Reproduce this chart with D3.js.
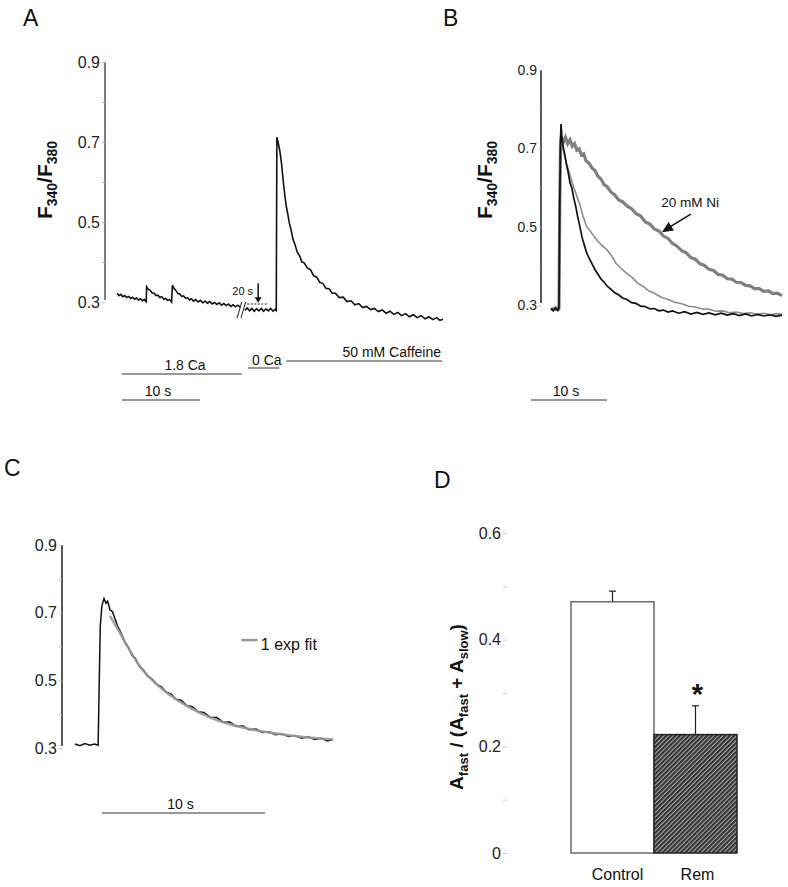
<!DOCTYPE html>
<html>
<head>
<meta charset="utf-8">
<script src="https://cdn.jsdelivr.net/npm/d3@7"></script>
<style>
body { margin: 0; background: #fff; }
svg text { font-family: "Liberation Sans", Arial, sans-serif; }
</style>
</head>
<body>
<div id="chart"></div>
<script>
//--------------------------------------------------
// data (time in s, value = F340/F380)
//--------------------------------------------------

const ratioTicks = [0.3, 0.4, 0.5, 0.6, 0.7, 0.8, 0.9];
const ratioLabels = [0.3, 0.5, 0.7, 0.9];

// panel A, before the break
const traceA1 = [[0,0.322],[0.25,0.316],[0.5,0.319],[0.75,0.313],[1.0,0.316],[1.25,0.311],[1.5,0.314],[1.75,0.309],[2.0,0.312],[2.25,0.307],[2.5,0.310],[2.75,0.305],[3.0,0.308],[3.25,0.303],[3.5,0.306],[3.75,0.301],[3.8,0.338],[4.0,0.332],[4.25,0.329],[4.5,0.323],[4.75,0.322],[5.0,0.316],[5.25,0.317],[5.5,0.311],[5.75,0.313],[6.0,0.307],[6.25,0.309],[6.5,0.304],[6.75,0.306],[7.0,0.300],[7.1,0.342],[7.3,0.334],[7.55,0.329],[7.8,0.321],[8.05,0.320],[8.3,0.314],[8.55,0.315],[8.8,0.309],[9.05,0.311],[9.3,0.305],[9.55,0.308],[9.8,0.302],[10.1,0.306],[10.4,0.300],[10.7,0.304],[11.0,0.298],[11.3,0.302],[11.6,0.297],[11.9,0.301],[12.2,0.295],[12.5,0.299],[12.8,0.294],[13.1,0.298],[13.4,0.292],[13.7,0.296],[14.0,0.291],[14.3,0.295],[14.6,0.289],[14.9,0.293],[15.2,0.288],[15.5,0.292],[15.8,0.287]];

// panel A, after the break (0 Ca, then caffeine)
const traceA2 = [[16.4,0.279],[16.7,0.285],[17.0,0.278],[17.3,0.284],[17.6,0.277],[17.9,0.283],[18.2,0.278],[18.5,0.284],[18.8,0.277],[19.1,0.283],[19.4,0.278],[19.7,0.284],[20.0,0.277],[20.3,0.282],[20.42,0.279],[20.5,0.712],[20.65,0.700],[20.9,0.675],[21.1,0.645],[21.3,0.605],[21.5,0.570],[21.7,0.540],[21.9,0.520],[22.1,0.497],[22.3,0.482],[22.55,0.458],[22.8,0.445],[23.1,0.425],[23.4,0.416],[23.7,0.400],[24.0,0.398],[24.4,0.385],[24.8,0.381],[25.2,0.366],[25.6,0.362],[26.0,0.349],[26.4,0.346],[26.8,0.334],[27.2,0.333],[27.6,0.322],[28.0,0.322],[28.5,0.311],[29.0,0.312],[29.5,0.301],[30.0,0.303],[30.5,0.293],[31.0,0.296],[31.5,0.286],[32.0,0.289],[32.5,0.281],[33.0,0.284],[33.5,0.276],[34.0,0.280],[34.5,0.272],[35.0,0.277],[35.5,0.269],[36.0,0.274],[36.5,0.266],[37.0,0.271],[37.5,0.263],[38.0,0.268],[38.5,0.261],[39.0,0.266],[39.5,0.258],[40.0,0.263],[40.5,0.256],[41.0,0.261],[41.4,0.254],[41.8,0.257]];

// solution protocol under panel A [label, start s, end s]
const protocolA = [["1.8 Ca", 0.64, 16.0], ["0 Ca", 16.8, 20.8], ["50 mM Caffeine", 21.7, 41.7]];

// panel B traces
const traceBBlack = [[0,0.291],[0.3,0.286],[0.6,0.292],[0.9,0.287],[1.05,0.293],[1.15,0.55],[1.25,0.72],[1.32,0.762],[1.45,0.725],[1.6,0.705],[1.8,0.685],[2.0,0.662],[2.25,0.640],[2.5,0.612],[2.75,0.598],[3.0,0.573],[3.25,0.552],[3.5,0.527],[3.8,0.500],[4.1,0.472],[4.4,0.452],[4.7,0.433],[5.0,0.420],[5.4,0.405],[5.8,0.390],[6.2,0.378],[6.6,0.366],[7.0,0.358],[7.4,0.348],[7.9,0.340],[8.4,0.331],[8.9,0.326],[9.4,0.318],[10.0,0.314],[10.6,0.306],[11.2,0.304],[11.8,0.297],[12.4,0.296],[13.0,0.290],[13.6,0.291],[14.2,0.285],[14.8,0.287],[15.4,0.282],[16.0,0.285],[16.8,0.279],[17.6,0.283],[18.4,0.277],[19.2,0.281],[20.0,0.276],[20.8,0.280],[21.6,0.275],[22.4,0.279],[23.2,0.274],[24.0,0.278],[24.8,0.273],[25.6,0.277],[26.4,0.272],[27.2,0.276],[28.0,0.272],[28.8,0.275],[29.6,0.271],[30.4,0.274]];
const traceBGray = [[0,0.288],[0.3,0.293],[0.6,0.287],[0.9,0.292],[1.05,0.289],[1.15,0.50],[1.25,0.685],[1.35,0.715],[1.5,0.700],[1.7,0.690],[2.0,0.665],[2.3,0.645],[2.6,0.625],[3.0,0.600],[3.4,0.578],[3.8,0.556],[4.2,0.528],[4.7,0.500],[5.2,0.488],[5.7,0.474],[6.2,0.462],[6.7,0.452],[7.4,0.440],[8.0,0.425],[8.6,0.405],[9.3,0.392],[10.0,0.380],[10.7,0.370],[11.4,0.356],[12.1,0.348],[12.8,0.337],[13.6,0.330],[14.5,0.320],[15.4,0.314],[16.3,0.307],[17.2,0.303],[18.1,0.297],[19.0,0.295],[19.9,0.290],[20.8,0.289],[21.7,0.284],[22.6,0.285],[23.5,0.280],[24.4,0.282],[25.3,0.278],[26.2,0.280],[27.1,0.276],[28.0,0.279],[28.9,0.275],[29.7,0.278],[30.4,0.276]];
const traceBNi = [[0,0.292],[0.3,0.287],[0.6,0.293],[0.9,0.288],[1.05,0.291],[1.15,0.55],[1.25,0.700],[1.35,0.728],[1.6,0.715],[1.9,0.728],[2.2,0.712],[2.5,0.722],[2.8,0.705],[3.1,0.712],[3.4,0.695],[3.7,0.699],[4.0,0.683],[4.3,0.686],[4.6,0.668],[5.0,0.662],[5.4,0.650],[5.8,0.643],[6.2,0.628],[6.6,0.621],[7.0,0.607],[7.4,0.602],[7.9,0.588],[8.4,0.581],[8.9,0.568],[9.4,0.564],[10.0,0.553],[10.6,0.546],[11.2,0.533],[11.8,0.527],[12.4,0.512],[13.0,0.507],[13.6,0.494],[14.2,0.489],[14.8,0.476],[15.4,0.470],[16.0,0.457],[16.6,0.450],[17.2,0.439],[17.8,0.433],[18.4,0.421],[19.0,0.417],[19.6,0.405],[20.2,0.401],[20.8,0.391],[21.4,0.388],[22.0,0.378],[22.6,0.376],[23.2,0.367],[23.8,0.366],[24.4,0.358],[25.0,0.357],[25.6,0.350],[26.2,0.349],[26.8,0.342],[27.4,0.342],[28.0,0.335],[28.6,0.336],[29.2,0.329],[29.8,0.330],[30.4,0.324]];

// panel C: trace and single exponential fit
const traceC = [[0,0.312],[0.3,0.307],[0.6,0.313],[0.9,0.308],[1.2,0.312],[1.42,0.308],[1.47,0.45],[1.55,0.66],[1.65,0.72],[1.78,0.742],[1.9,0.728],[2.0,0.734],[2.15,0.708],[2.3,0.703],[2.45,0.682],[2.6,0.662],[2.75,0.648],[2.9,0.632],[3.1,0.608],[3.3,0.596],[3.5,0.573],[3.7,0.565],[3.95,0.541],[4.2,0.531],[4.45,0.512],[4.7,0.505],[5.0,0.489],[5.3,0.481],[5.6,0.465],[5.9,0.459],[6.2,0.444],[6.5,0.441],[6.85,0.426],[7.2,0.422],[7.55,0.407],[7.9,0.405],[8.3,0.391],[8.7,0.390],[9.1,0.376],[9.5,0.377],[9.9,0.364],[10.3,0.365],[10.7,0.354],[11.1,0.356],[11.5,0.346],[11.9,0.348],[12.3,0.339],[12.7,0.342],[13.1,0.334],[13.5,0.337],[13.9,0.329],[14.3,0.333],[14.7,0.325],[15.1,0.329],[15.5,0.321],[15.83,0.325]];
const fitC = [[2.15,0.690],[2.7,0.645],[3.4,0.585],[4.0,0.540],[4.6,0.507],[5.2,0.480],[6.1,0.447],[7.1,0.418],[8.3,0.390],[9.5,0.370],[10.7,0.356],[12.0,0.345],[13.2,0.337],[14.5,0.330],[15.83,0.325]];

// panel D bars
const groupsD = ["Control", "Rem"];
const meansD = [0.471, 0.222];
const errorsD = [0.020, 0.054];
const ticksD = [0, 0.1, 0.2, 0.3, 0.4, 0.5, 0.6];
const labelsD = [0, 0.2, 0.4, 0.6];

//--------------------------------------------------
// drawing
//--------------------------------------------------

const W = 788, H = 887;
const svg = d3.select("#chart").append("svg").attr("width", W).attr("height", H);

// hatch for the Rem bar: dark fill, thin light diagonals
const defs = svg.append("defs");
const pat = defs.append("pattern")
    .attr("id", "hatch")
    .attr("patternUnits", "userSpaceOnUse")
    .attr("width", 3.2).attr("height", 3.2)
    .attr("patternTransform", "rotate(45)");
pat.append("rect").attr("width", 3.2).attr("height", 3.2).attr("fill", "#333");
pat.append("line").attr("x1", 1).attr("y1", 0).attr("x2", 1).attr("y2", 3.2)
    .attr("stroke", "#c4c4c4").attr("stroke-width", 0.9);

const line = (x, y) => d3.line().x(d => x(d[0])).y(d => y(d[1]));

function panelLetter(txt, x, y) {
    svg.append("text").attr("x", x).attr("y", y).attr("font-size", 23).attr("fill", "#111").text(txt);
}

function ratioAxis(y, xPos, fs, tickLen, domainColor) {
    const g = svg.append("g").attr("transform", `translate(${xPos},0)`)
        .call(d3.axisLeft(y).tickValues(ratioTicks).tickSize(tickLen).tickPadding(2)
            .tickFormat(d => ratioLabels.includes(d) ? d3.format(".1f")(d) : ""));
    g.select(".domain").attr("stroke", domainColor).attr("stroke-width", 1.5)
        .attr("d", `M0,${y(0.9)}V${y(0.3) - 2}`);
    g.selectAll(".tick line").attr("stroke", "#bbb");
    g.selectAll(".tick text").attr("font-size", fs).attr("fill", "#222")
        .attr("font-family", "Liberation Sans, Arial, sans-serif");
    return g;
}

function ratioTitle(cx, cy) {
    const t = svg.append("text").attr("transform", `translate(${cx},${cy}) rotate(-90)`)
        .attr("text-anchor", "middle").attr("font-weight", "bold").attr("font-size", 21).attr("fill", "#111");
    t.append("tspan").text("F");
    t.append("tspan").attr("font-size", 14).attr("dy", 5).text("340");
    t.append("tspan").attr("dy", -5).text("/F");
    t.append("tspan").attr("font-size", 14).attr("dy", 5).text("380");
}

function scaleBar(x, x0, x1, yPix, label) {
    svg.append("line").attr("x1", x(x0)).attr("x2", x(x1)).attr("y1", yPix).attr("y2", yPix)
        .attr("stroke", "#333").attr("stroke-width", 1);
    svg.append("text").attr("x", (x(x0) + x(x1)) / 2 - 3).attr("y", yPix - 4)
        .attr("text-anchor", "middle").attr("font-size", 14).attr("fill", "#111").text(label);
}

// ---------------- Panel A ----------------
panelLetter("A", 23, 26);
const xA = d3.scaleLinear().domain([0, 41.8]).range([117, 443]);
const yA = d3.scaleLinear().domain([0.3, 0.9]).range([302, 62]);
ratioAxis(yA, 105, 16, 3, "#555");
ratioTitle(52, 180);

[traceA1, traceA2].forEach(tr => {
    svg.append("path").datum(tr).attr("d", line(xA, yA))
        .attr("fill", "none").attr("stroke", "#111").attr("stroke-width", 1.6);
});

// break marks
[[15.4, 16.0], [15.9, 16.5]].forEach(b => {
    svg.append("line").attr("x1", xA(b[0])).attr("y1", yA(0.26)).attr("x2", xA(b[1])).attr("y2", yA(0.30))
        .attr("stroke", "#222").attr("stroke-width", 1);
});
// 20 s gap marker
svg.append("line").attr("x1", xA(16.7)).attr("x2", xA(19.4)).attr("y1", yA(0.295)).attr("y2", yA(0.295))
    .attr("stroke", "#222").attr("stroke-width", 1).attr("stroke-dasharray", "2,1.5");
svg.append("line").attr("x1", xA(18.1)).attr("x2", xA(18.1)).attr("y1", yA(0.347)).attr("y2", yA(0.31))
    .attr("stroke", "#111").attr("stroke-width", 1.5);
svg.append("path")
    .attr("d", `M${xA(18.1) - 3.5},${yA(0.312)}L${xA(18.1) + 3.5},${yA(0.312)}L${xA(18.1)},${yA(0.298)}Z`)
    .attr("fill", "#111");
svg.append("text").attr("x", xA(17.45)).attr("y", yA(0.318)).attr("text-anchor", "end")
    .attr("font-size", 11).attr("fill", "#111").text("20 s");

// protocol bars
protocolA.forEach((p, i) => {
    const yPix = [374, 368, 361][i];
    svg.append("line").attr("x1", xA(p[1])).attr("x2", xA(p[2])).attr("y1", yPix).attr("y2", yPix)
        .attr("stroke", "#333").attr("stroke-width", 1);
});
svg.append("text").attr("x", 185).attr("y", 370).attr("text-anchor", "middle").attr("font-size", 14).attr("fill", "#111").text(protocolA[0][0]);
svg.append("text").attr("x", 252).attr("y", 365).attr("font-size", 14).attr("fill", "#111").text(protocolA[1][0]);
svg.append("text").attr("x", 441).attr("y", 357).attr("text-anchor", "end").attr("font-size", 14).attr("fill", "#111").text(protocolA[2][0]);
scaleBar(xA, 0.64, 10.64, 400, "10 s");

// ---------------- Panel B ----------------
panelLetter("B", 443, 26);
const xB = d3.scaleLinear().domain([0, 30.4]).range([551, 782]);
const yB = d3.scaleLinear().domain([0.3, 0.9]).range([305, 70]);
ratioAxis(yB, 541, 14, 2, "#222");
ratioTitle(492, 180);

svg.append("path").datum(traceBNi).attr("d", line(xB, yB))
    .attr("fill", "none").attr("stroke", "#808080").attr("stroke-width", 3.2);
svg.append("path").datum(traceBGray).attr("d", line(xB, yB))
    .attr("fill", "none").attr("stroke", "#8c8c8c").attr("stroke-width", 1.6);
svg.append("path").datum(traceBBlack).attr("d", line(xB, yB))
    .attr("fill", "none").attr("stroke", "#111").attr("stroke-width", 1.7);

// Ni arrow
svg.append("line").attr("x1", xB(18.4)).attr("y1", yB(0.532)).attr("x2", xB(15.6)).attr("y2", yB(0.499))
    .attr("stroke", "#111").attr("stroke-width", 1.5);
{
    const tx = xB(14.6), ty = yB(0.486);
    const ang = Math.atan2(yB(0.532) - ty, xB(18.4) - tx);
    const L = 11, Wd = 5;
    const bx = tx + L * Math.cos(ang), by = ty + L * Math.sin(ang);
    const px = -Math.sin(ang) * Wd, py = Math.cos(ang) * Wd;
    svg.append("path").attr("d", `M${tx},${ty}L${bx + px},${by + py}L${bx - px},${by - py}Z`).attr("fill", "#111");
}
svg.append("text").attr("x", xB(14.5)).attr("y", yB(0.55)).attr("font-size", 13.5).attr("fill", "#111").text("20 mM Ni");
scaleBar(xB, -2.63, 7.37, 400, "10 s");

// ---------------- Panel C ----------------
panelLetter("C", 4, 476);
const xC = d3.scaleLinear().domain([0, 15.83]).range([75, 333]);
const yC = d3.scaleLinear().domain([0.3, 0.9]).range([748, 545]);
ratioAxis(yC, 62, 16, 3, "#222");

svg.append("path").datum(traceC).attr("d", line(xC, yC))
    .attr("fill", "none").attr("stroke", "#111").attr("stroke-width", 1.5);
svg.append("path").datum(fitC).attr("d", line(xC, yC).curve(d3.curveMonotoneX))
    .attr("fill", "none").attr("stroke", "#999").attr("stroke-width", 2.5).attr("opacity", 0.9);

// legend
svg.append("line").attr("x1", xC(10.2)).attr("x2", xC(11.2)).attr("y1", yC(0.619)).attr("y2", yC(0.619))
    .attr("stroke", "#999").attr("stroke-width", 2.5);
svg.append("text").attr("x", xC(11.4)).attr("y", yC(0.59)).attr("font-size", 16).attr("fill", "#111").text("1 exp fit");
scaleBar(xC, 1.66, 11.66, 813, "10 s");

// ---------------- Panel D ----------------
panelLetter("D", 434, 488);
const xD = d3.scaleBand().domain(groupsD).range([571, 737]).padding(0);
const yD = d3.scaleLinear().domain([0, 0.6]).range([853, 533]);

const gD = svg.append("g").attr("transform", "translate(507,0)")
    .call(d3.axisLeft(yD).tickValues(ticksD).tickSize(4).tickPadding(2)
        .tickFormat(d => labelsD.includes(d) ? (d === 0 ? "0" : d3.format(".1f")(d)) : ""));
gD.select(".domain").remove();
gD.selectAll(".tick line").attr("stroke", "#ccc");
gD.selectAll(".tick text").attr("font-size", 16).attr("fill", "#222")
    .attr("font-family", "Liberation Sans, Arial, sans-serif");

// error bars (drawn first, bars sit on top)
groupsD.forEach((g, i) => {
    const cx = xD(g) + xD.bandwidth() / 2;
    svg.append("line").attr("x1", cx).attr("x2", cx).attr("y1", yD(meansD[i])).attr("y2", yD(meansD[i] + errorsD[i]))
        .attr("stroke", "#222").attr("stroke-width", 1.2);
    svg.append("line").attr("x1", cx - 3.5).attr("x2", cx + 3.5)
        .attr("y1", yD(meansD[i] + errorsD[i])).attr("y2", yD(meansD[i] + errorsD[i]))
        .attr("stroke", "#222").attr("stroke-width", 1.2);
});

svg.selectAll(".barD").data(groupsD).enter().append("rect")
    .attr("class", "barD")
    .attr("x", d => xD(d))
    .attr("y", (d, i) => yD(meansD[i]))
    .attr("width", xD.bandwidth())
    .attr("height", (d, i) => yD(0) - yD(meansD[i]))
    .attr("fill", (d, i) => i === 0 ? "#fff" : "url(#hatch)")
    .attr("stroke", (d, i) => i === 0 ? "#555" : "#222")
    .attr("stroke-width", (d, i) => i === 0 ? 1.3 : 1.5);

svg.selectAll(".labD").data(groupsD).enter().append("text")
    .attr("x", d => xD(d) + xD.bandwidth() / 2 + (d === "Control" ? 5 : 2))
    .attr("y", 880)
    .attr("text-anchor", "middle").attr("font-size", 16).attr("fill", "#111")
    .text(d => d);

svg.append("text").attr("x", xD("Rem") + xD.bandwidth() / 2 + 2).attr("y", 704)
    .attr("text-anchor", "middle").attr("font-size", 29).attr("font-weight", "bold").attr("fill", "#111").text("*");

{
    const t = svg.append("text").attr("transform", "translate(463,707) rotate(-90)")
        .attr("text-anchor", "middle").attr("font-weight", "bold").attr("font-size", 19).attr("fill", "#111");
    t.append("tspan").text("A");
    t.append("tspan").attr("font-size", 13).attr("dy", 5).text("fast");
    t.append("tspan").attr("dy", -5).text(" / (A");
    t.append("tspan").attr("font-size", 13).attr("dy", 5).text("fast");
    t.append("tspan").attr("dy", -5).text(" + A");
    t.append("tspan").attr("font-size", 13).attr("dy", 5).text("slow");
    t.append("tspan").attr("dy", -5).text(")");
}
</script>
</body>
</html>
